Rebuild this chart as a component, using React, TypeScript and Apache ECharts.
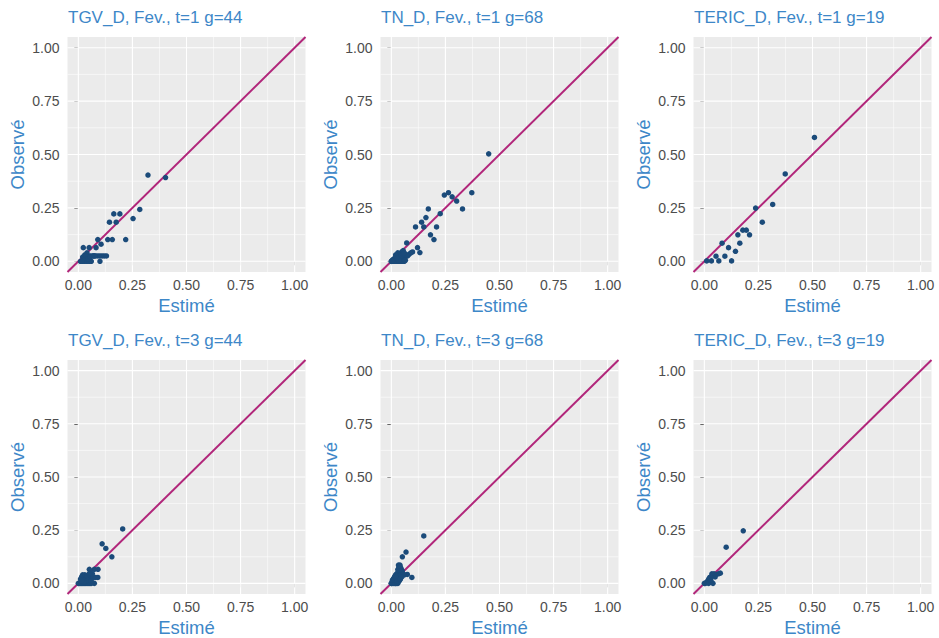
import React, { useEffect, useRef } from "react";
import * as echarts from "echarts";

// ---- data ----
const panelTitles = [
  "TGV_D, Fev., t=1 g=44",
  "TN_D, Fev., t=1 g=68",
  "TERIC_D, Fev., t=1 g=19",
  "TGV_D, Fev., t=3 g=44",
  "TN_D, Fev., t=3 g=68",
  "TERIC_D, Fev., t=3 g=19",
];

const majorTicks = [0, 0.25, 0.5, 0.75, 1];
const minorTicks = [0.125, 0.375, 0.625, 0.875];
const axisMin = -0.05;
const axisMax = 1.05;

// TGV_D t=1
const tgv1X = [0.322, 0.403, 0.284, 0.253, 0.164, 0.192, 0.144, 0.175, 0.136, 0.157, 0.219, 0.09, 0.105, 0.082, 0.023, 0.05, 0.1,
  0.03, 0.05, 0.07, 0.08, 0.09, 0.1, 0.11, 0.12, 0.13,
  0.01, 0.02, 0.03, 0.04, 0.05, 0.06,
  0.02, 0.03, 0.04, 0.025, 0.035, 0.05, 0.015, 0.06, 0.07, 0.045, 0.055, 0.075];
const tgv1Y = [0.404, 0.392, 0.243, 0.2, 0.222, 0.222, 0.183, 0.183, 0.102, 0.102, 0.102, 0.102, 0.08, 0.064, 0.064, 0.064, 0.0,
  0.025, 0.025, 0.025, 0.025, 0.025, 0.025, 0.025, 0.025, 0.025,
  0, 0, 0, 0, 0, 0,
  0.02, 0.03, 0.04, 0.012, 0.025, 0.012, 0.0, 0.025, 0.025, 0.012, 0.02, 0.025];

// TN_D t=1
const tn1X = [0.45, 0.372, 0.329, 0.302, 0.281, 0.264, 0.245, 0.226, 0.171, 0.16, 0.14, 0.15, 0.112, 0.209, 0.181, 0.197, 0.121, 0.132, 0.071, 0.098, 0.082, 0.067, 0.09,
  0.0, 0.005, 0.01, 0.015, 0.02, 0.025, 0.03, 0.035, 0.04, 0.045, 0.05, 0.055,
  0.01, 0.02, 0.03, 0.04, 0.05, 0.06, 0.015, 0.025, 0.035, 0.045, 0.055,
  0.02, 0.03, 0.04, 0.05, 0.06, 0.035, 0.045,
  0.03, 0.04, 0.05, 0.02, 0.06, 0.07, 0.075, 0.065, 0.045, 0.035, 0.025, 0.0, 0.005, 0.055, 0.06];
const tn1Y = [0.503, 0.321, 0.245, 0.282, 0.302, 0.321, 0.31, 0.223, 0.245, 0.205, 0.183, 0.161, 0.161, 0.161, 0.124, 0.102, 0.064, 0.041, 0.086, 0.044, 0.033, 0.024, 0.04,
  0.0, 0.005, 0.01, 0.012, 0.02, 0.022, 0.03, 0.028, 0.035, 0.04, 0.045, 0.05,
  0, 0, 0, 0, 0, 0, 0, 0, 0, 0, 0,
  0.01, 0.012, 0.015, 0.01, 0.008, 0.02, 0.018,
  0.04, 0.03, 0.03, 0.03, 0.02, 0.03, 0.025, 0.005, 0.025, 0.005, 0.015, 0.0, 0.002, 0.035, 0.04];

// TERIC_D t=1
const teric1X = [0.509, 0.374, 0.316, 0.237, 0.268, 0.178, 0.194, 0.155, 0.209, 0.164, 0.144, 0.082, 0.112, 0.095, 0.054, 0.067, 0.126, 0.033, 0.011];
const teric1Y = [0.58, 0.409, 0.266, 0.249, 0.183, 0.146, 0.146, 0.124, 0.124, 0.085, 0.047, 0.085, 0.064, 0.024, 0.024, 0.002, 0.002, 0.002, 0.002];

// TGV_D t=3
const tgv3X = [0.205, 0.11, 0.127, 0.155, 0.091, 0.074, 0.051, 0.09, 0.074,
  0.0, 0.005, 0.01, 0.015, 0.02, 0.025, 0.03, 0.035, 0.04, 0.045, 0.05, 0.055, 0.06,
  0.01, 0.015, 0.02, 0.025, 0.03, 0.04, 0.05, 0.06, 0.07, 0.08,
  0.02, 0.03, 0.04, 0.05, 0.035, 0.045, 0.06, 0.065, 0.025, 0.015, 0.055];
const tgv3Y = [0.256, 0.186, 0.164, 0.125, 0.066, 0.066, 0.066, 0.028, 0.0,
  0, 0, 0, 0, 0, 0, 0, 0, 0, 0, 0, 0, 0,
  0.02, 0.03, 0.01, 0.025, 0.02, 0.028, 0.028, 0.028, 0.028, 0.028,
  0.04, 0.04, 0.035, 0.045, 0.012, 0.015, 0.01, 0.045, 0.008, 0.012, 0.05];

// TN_D t=3
const tn3X = [0.15, 0.068, 0.051, 0.095, 0.074, 0.04, 0.033, 0.053,
  0.0, 0.005, 0.01, 0.015, 0.02, 0.025, 0.03, 0.035, 0.04, 0.045, 0.05,
  0.0, 0.005, 0.01, 0.015, 0.02, 0.025, 0.03,
  0.01, 0.015, 0.02, 0.025, 0.03, 0.035, 0.04, 0.045,
  0.01, 0.015, 0.02, 0.025, 0.03, 0.035, 0.04,
  0.005, 0.01, 0.015, 0.02, 0.025, 0.03, 0.035,
  0.02, 0.025, 0.03, 0.035, 0.04, 0.045,
  0.03, 0.035, 0.04, 0.045, 0.05, 0.055, 0.06, 0.012, 0.018, 0.022, 0.028, 0.038, 0.042, 0.048];
const tn3Y = [0.223, 0.147, 0.125, 0.028, 0.042, 0.086, 0.086, 0.042,
  0.0, 0.005, 0.01, 0.015, 0.02, 0.025, 0.03, 0.035, 0.04, 0.045, 0.05,
  0, 0, 0, 0, 0, 0, 0,
  0.02, 0.025, 0.03, 0.035, 0.04, 0.045, 0.05, 0.055,
  0.01, 0.012, 0.015, 0.018, 0.02, 0.025, 0.03,
  0.015, 0.02, 0.03, 0.04, 0.045, 0.05, 0.06,
  0.0, 0.005, 0.008, 0.01, 0.06, 0.07,
  0.065, 0.075, 0.08, 0.04, 0.06, 0.045, 0.04, 0.025, 0.035, 0.028, 0.012, 0.015, 0.02, 0.03];

// TERIC_D t=3
const teric3X = [0.18, 0.101, 0.074, 0.065, 0.055, 0.05, 0.045, 0.04, 0.035, 0.03, 0.025, 0.02, 0.015, 0.01, 0.005, 0.0, 0.02, 0.04, 0.03];
const teric3Y = [0.247, 0.17, 0.048, 0.045, 0.042, 0.03, 0.045, 0.04, 0.045, 0.03, 0.028, 0.02, 0.01, 0.005, 0.0, 0.0, 0.0, 0.0, 0.015];

const panelXs = [tgv1X, tn1X, teric1X, tgv3X, tn3X, teric3X];
const panelYs = [tgv1Y, tn1Y, teric1Y, tgv3Y, tn3Y, teric3Y];

// ---- layout / style ----
const colLefts = [67.5, 380.5, 693.5];
const rowTops = [37, 360];
const panelW = 238;
const panelH = 235;
const FONT = "Liberation Sans, Arial, sans-serif";
const blue = "#3D87C8";
const pointColor = "#1B4B7A";
const lineColor = "#B1267A";

export default function App() {
  const ref = useRef<HTMLDivElement>(null);
  useEffect(() => {
    document.body.style.margin = "0";
    const chart = echarts.init(ref.current!, null, { renderer: "svg" });
    const grids: any[] = [];
    const xAxes: any[] = [];
    const yAxes: any[] = [];
    const titles: any[] = [];
    const series: any[] = [];
    const gridData = [
      ...majorTicks.map((v) => [v, 1]),
      ...minorTicks.map((v) => [v, 0]),
    ];
    panelTitles.forEach((t, i) => {
      const left = colLefts[i % 3];
      const top = rowTops[Math.floor(i / 3)];
      grids.push({
        left, top, width: panelW, height: panelH,
        show: true, backgroundColor: "#EBEBEB", borderWidth: 0,
      });
      titles.push({
        text: t, left: left + 0.5, top: top - 28, padding: 0,
        textStyle: { fontFamily: FONT, fontSize: 17, fontWeight: "normal", color: blue },
      });
      const common = {
        gridIndex: i, type: "value", min: axisMin, max: axisMax,
        axisLine: { show: false },
        splitLine: { show: false },
        axisTick: { show: true, length: 4, customValues: majorTicks, lineStyle: { color: "#333333", width: 1 } },
        axisLabel: {
          customValues: majorTicks, color: "#4D4D4D", fontSize: 14, fontFamily: FONT,
          formatter: (v: number) => v.toFixed(2),
        },
        nameLocation: "middle",
        nameTextStyle: { color: blue, fontSize: 18.5, fontFamily: FONT },
      };
      xAxes.push({ ...common, name: "Estimé", nameGap: 24, axisLabel: { ...common.axisLabel, margin: 6 } });
      yAxes.push({ ...common, name: "Observé", nameGap: 41, axisLabel: { ...common.axisLabel, margin: 8 } });

      series.push({
        type: "custom", xAxisIndex: i, yAxisIndex: i, silent: true, z: 1,
        data: gridData,
        renderItem: (_p: any, api: any) => {
          const v = api.value(0);
          const major = api.value(1) === 1;
          const a = api.coord([v, axisMin]);
          const b = api.coord([v, axisMax]);
          return { type: "line", shape: { x1: a[0], y1: a[1], x2: b[0], y2: b[1] }, style: { stroke: "#FFFFFF", lineWidth: major ? 1.1 : 0.55 } };
        },
      });
      series.push({
        type: "custom", xAxisIndex: i, yAxisIndex: i, silent: true, z: 1,
        data: gridData.map((d) => [d[1], d[0]]),
        renderItem: (_p: any, api: any) => {
          const v = api.value(1);
          const major = api.value(0) === 1;
          const a = api.coord([axisMin, v]);
          const b = api.coord([axisMax, v]);
          return { type: "line", shape: { x1: a[0], y1: a[1], x2: b[0], y2: b[1] }, style: { stroke: "#FFFFFF", lineWidth: major ? 1.1 : 0.55 } };
        },
      });
      series.push({
        type: "line", xAxisIndex: i, yAxisIndex: i, silent: true, z: 3,
        data: [[axisMin, axisMin], [axisMax, axisMax]],
        symbol: "none", lineStyle: { color: lineColor, width: 2 },
      });
      series.push({
        type: "scatter", xAxisIndex: i, yAxisIndex: i, z: 4,
        data: panelXs[i].map((x, k) => [x, panelYs[i][k]]),
        symbolSize: 5.5, itemStyle: { color: pointColor, opacity: 1 },
      });
    });
    chart.setOption({
      animation: false,
      backgroundColor: "#FFFFFF",
      title: titles,
      grid: grids,
      xAxis: xAxes,
      yAxis: yAxes,
      series,
    });
    return () => chart.dispose();
  }, []);
  return <div ref={ref} style={{ width: 939, height: 638 }} />;
}
